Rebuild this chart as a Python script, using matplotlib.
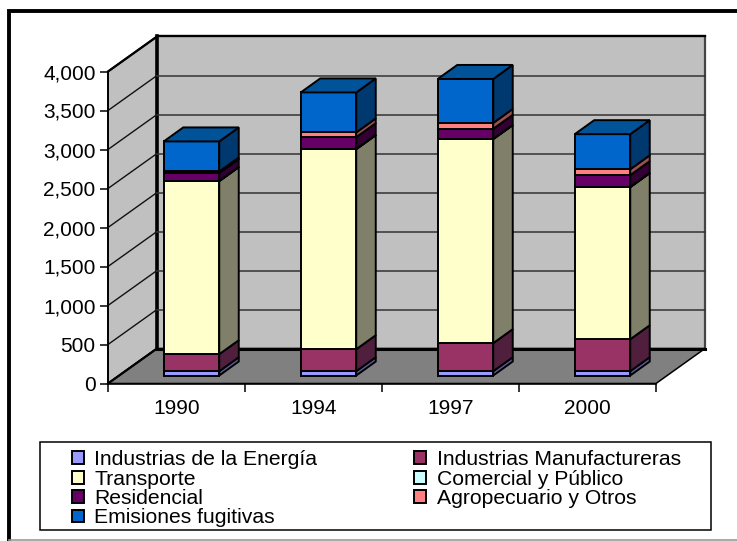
import matplotlib
matplotlib.use("Agg")
import matplotlib.pyplot as plt
from matplotlib.patches import Polygon, Rectangle, Patch
from matplotlib.lines import Line2D

years = ["1990", "1994", "1997", "2000"]
series_names = ["Industrias de la Energía", "Industrias Manufactureras", "Transporte",
                "Comercial y Público", "Residencial", "Agropecuario y Otros", "Emisiones fugitivas"]
energia = [55, 55, 55, 55]
manufactureras = [218, 282, 360, 410]
transporte = [2218, 2564, 2615, 1949]
comercial = [5, 5, 5, 5]
residencial = [100, 150, 128, 150]
agropecuario = [20, 60, 75, 75]
fugitivas = [385, 513, 564, 450]
series_values = [energia, manufactureras, transporte, comercial, residencial, agropecuario, fugitivas]
colors_front = ["#9999FF", "#993366", "#FFFFCC", "#CCFFFF", "#660066", "#FF8080", "#0066CC"]
colors_side = ["#5C5C99", "#4F1F3D", "#80806A", "#668080", "#330033", "#995050", "#003870"]
colors_top = ["#7A7ACC", "#7A2952", "#CCCCA3", "#A3CCCC", "#520052", "#CC6666", "#005299"]
y_ticks = [0, 500, 1000, 1500, 2000, 2500, 3000, 3500, 4000]

W, H = 737, 541
plt.rcParams['font.family'] = ['Liberation Sans', 'DejaVu Sans']
fig = plt.figure(figsize=(W / 100, H / 100), dpi=100)
fig.patch.set_facecolor("white")

LEFT, RIGHT, Y0, Y4000 = 108, 656, 383.5, 71.5
ax = fig.add_axes([LEFT / W, 1 - Y0 / H, (RIGHT - LEFT) / W, (Y0 - Y4000) / H])
ax.set_xlim(0, 4)
ax.set_ylim(0, 4000)
ax.patch.set_visible(False)
px_x = 4 / (RIGHT - LEFT)
px_y = 4000 / (Y0 - Y4000)

DX, DY = 49 * px_x, 35 * px_y   # chart depth in data units
ax_lw = 1.1

def poly(pts, fc, ec="black", lw=ax_lw, z=1):
    ax.add_patch(Polygon(pts, closed=True, fc=fc, ec=ec, lw=lw, zorder=z, clip_on=False, joinstyle="miter"))

# back wall, side wall, floor
poly([(DX, DY), (4 + DX, DY), (4 + DX, 4000 + DY), (DX, 4000 + DY)], "#C0C0C0", ec="#444444", lw=1.6)
poly([(0, 0), (DX, DY), (DX, 4000 + DY), (0, 4000)], "#C0C0C0", lw=1.3)
poly([(0, 0), (4, 0), (4 + DX, DY), (DX, DY)], "#808080", lw=1.1)
ax.plot([DX, DX], [DY, 4000 + DY], color="black", lw=2.6, zorder=2, clip_on=False)
ax.plot([DX, 4 + DX], [DY, DY], color="black", lw=2.2, zorder=2, clip_on=False)
ax.plot([0, DX], [0, DY], color="black", lw=1.6, zorder=2, clip_on=False)
ax.plot([0, DX], [4000, 4000 + DY], color="black", lw=1.6, zorder=2, clip_on=False)

for t in y_ticks[1:-1]:
    ax.plot([0, DX], [t, t + DY], color="#111111", lw=1.0, zorder=2, clip_on=False)
    ax.plot([DX, 4 + DX], [t + DY, t + DY], color="#333333", lw=1.1, zorder=2, clip_on=False)
ax.plot([DX, 4 + DX], [4000 + DY] * 2, color="black", lw=1.6, zorder=2, clip_on=False)

# bars
bar_w = 55.5 * px_x
bdx, bdy = 19.5 * px_x, 14 * px_y
base = 8 * px_y
shift = 15 * px_x
for i in range(len(years)):
    x0 = i + 0.5 + shift - bar_w / 2
    x1 = x0 + bar_w
    bottom = base
    for vals, cf, cs in zip(series_values, colors_front, colors_side):
        top = bottom + vals[i]
        poly([(x1, bottom), (x1 + bdx, bottom + bdy), (x1 + bdx, top + bdy), (x1, top)], cs, lw=1.4, z=5)
        poly([(x0, bottom), (x1, bottom), (x1, top), (x0, top)], cf, lw=1.4, z=5)
        bottom = top
    poly([(x0, bottom), (x1, bottom), (x1 + bdx, bottom + bdy), (x0 + bdx, bottom + bdy)], colors_top[-1], lw=1.4, z=5)

# axes
for s in ["top", "right"]:
    ax.spines[s].set_visible(False)
ax.spines["left"].set_linewidth(1.1)
ax.spines["bottom"].set_linewidth(1.1)
ax.set_yticks(y_ticks)
ax.set_yticklabels([f"{t:,}" for t in y_ticks], fontsize=15)
ax.set_xticks(range(5))
ax.set_xticklabels([])
ax.set_xticks([i + 0.5 for i in range(4)], minor=True)
ax.set_xticklabels(years, minor=True, fontsize=15)
ax.tick_params(axis="x", which="minor", length=0, pad=11)
ax.tick_params(axis="x", which="major", length=6, width=1.1)
ax.tick_params(axis="y", length=6, width=1.1, pad=3)

# outer frame: heavy black on top and left only
fig.add_artist(Line2D([9 / W, 9 / W, 737 / W], [1 - 541 / H, 1 - 11 / H, 1 - 11 / H],
                      transform=fig.transFigure, color="black", lw=2.8, solid_joinstyle="miter"))
fig.add_artist(Line2D([9 / W, 737 / W], [1 - 540 / H, 1 - 540 / H],
                      transform=fig.transFigure, color="#999999", lw=1.2))

# legend frame and legend
fig.add_artist(Rectangle((39.5 / W, 1 - 530 / H), 671 / W, 88 / H, transform=fig.transFigure,
                         fc="white", ec="black", lw=1.1, zorder=3))
order = [0, 2, 4, 6, 1, 3, 5]
handles = [Patch(fc=colors_front[k], ec="black", lw=1.4) for k in order]
labels = [series_names[k] for k in order]
leg = fig.legend(handles, labels, ncol=2, frameon=False, loc="upper left",
                 bbox_to_anchor=(68 / W, 1 - 446 / H), bbox_transform=fig.transFigure,
                 fontsize=15.2, handlelength=0.55, handleheight=0.55, handletextpad=0.5,
                 labelspacing=0.02, columnspacing=4.6, borderpad=0.2, borderaxespad=0)
leg.set_zorder(4)

fig.savefig("out.png", dpi=100)
